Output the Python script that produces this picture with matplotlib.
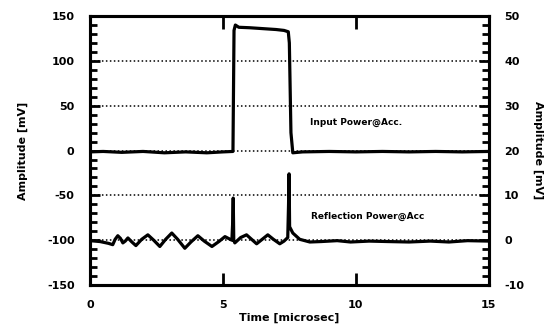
import numpy as np
import matplotlib
matplotlib.use("Agg")
import matplotlib.pyplot as plt
from matplotlib.ticker import MultipleLocator

# Input power at accelerator, left axis [mV]
t_input = [0.0, 0.5, 1.2, 2.0, 2.8, 3.6, 4.4, 5.0, 5.38, 5.42, 5.47, 5.6, 6.0,
           6.5, 7.0, 7.3, 7.46, 7.5, 7.56, 7.63, 8.0, 9.0, 10.0, 11.0, 12.0,
           13.0, 14.0, 15.0]
v_input = [-1.5, -1.0, -2.0, -1.0, -2.5, -1.5, -2.5, -1.5, -1.0, 134.0, 140.0,
           137.5, 137.0, 136.0, 135.0, 134.0, 132.5, 120.0, 20.0, -2.5, -1.5,
           -1.0, -1.5, -1.0, -1.5, -1.0, -1.5, -1.0]

# Reflection power at accelerator, right axis [mV]
t_refl = [0.0, 0.38, 0.7, 0.86, 0.95, 1.05, 1.15, 1.24, 1.33, 1.43, 1.58,
          1.73, 1.95, 2.18, 2.4, 2.63, 2.85, 3.08, 3.3, 3.57, 3.8, 4.06, 4.3,
          4.59, 4.85, 5.08, 5.34, 5.37, 5.39, 5.41, 5.45, 5.67, 5.89, 6.08,
          6.27, 6.48, 6.69, 6.9, 7.14, 7.3, 7.44, 7.47, 7.49, 7.51, 7.63, 7.89,
          8.27, 8.7, 9.3, 9.8, 10.5, 11.2, 12.0, 12.8, 13.5, 14.2, 15.0]
v_refl = [-0.1, -0.3, -0.7, -1.0, 0.2, 1.0, 0.4, -0.6, -0.2, 0.5, -0.4, -1.2,
          0.2, 1.2, 0.0, -1.4, 0.2, 1.6, 0.2, -1.8, -0.4, 1.0, -0.2, -1.4,
          -0.3, 0.8, 0.0, 4.0, 9.4, 0.0, -0.6, 0.6, 1.2, 0.2, -0.8, 0.2, 1.2,
          0.2, -0.8, -0.2, 0.6, 8.0, 14.8, 3.0, 1.6, 0.2, -0.4, -0.3, -0.1,
          -0.4, -0.2, -0.3, -0.4, -0.2, -0.4, -0.1, -0.2]

left_ticks = [-150, -100, -50, 0, 50, 100, 150]
right_ticks = [-10, 0, 10, 20, 30, 40, 50]
x_ticks = [0, 5, 10, 15]
grid_levels = [-100, -50, 0, 50, 100]

plt.rcParams["font.family"] = "DejaVu Sans"
plt.rcParams["font.weight"] = "bold"
plt.rcParams["axes.unicode_minus"] = False

fig = plt.figure(figsize=(5.48, 3.28), dpi=100)
ax = fig.add_axes([0.164, 0.131, 0.728, 0.820])
ax2 = ax.twinx()

for g in grid_levels:
    ax.axhline(g, color="black", lw=1.1, ls=(0, (1, 1.6)), zorder=1)

ax.plot(t_input, v_input, color="black", lw=2.3, zorder=3)
ax2.plot(t_refl, v_refl, color="black", lw=2.3, zorder=3,
         solid_joinstyle="round")

ax.set_xlim(0, 15)
ax.set_ylim(-150, 150)
ax2.set_ylim(-10, 50)

ax.set_xticks(x_ticks)
ax.set_yticks(left_ticks)
ax2.set_yticks(right_ticks)
ax.yaxis.set_minor_locator(MultipleLocator(10))
ax2.yaxis.set_minor_locator(MultipleLocator(2))

ax.tick_params(axis="x", direction="in", length=9, width=2, top=True,
               labelsize=8, pad=11)
ax.tick_params(axis="y", which="major", direction="in", length=7, width=2,
               labelsize=8, pad=11)
ax.tick_params(axis="y", which="minor", direction="in", length=5, width=2)
ax2.tick_params(axis="y", which="major", direction="in", length=7, width=2,
                labelsize=8, pad=11)
ax2.tick_params(axis="y", which="minor", direction="in", length=5, width=2)

for a in (ax, ax2):
    for s in a.spines.values():
        s.set_linewidth(2.2)

ax.set_xlabel("Time [microsec]", fontsize=8, fontweight="bold", labelpad=2)
ax.set_ylabel("Amplitude [mV]", fontsize=8, fontweight="bold", labelpad=14)
ax2.set_ylabel("Amplitude [mV]", fontsize=8, fontweight="bold", rotation=270,
               labelpad=14)

ax.text(8.27, 31, "Input Power@Acc.", fontsize=6.5, fontweight="bold",
        va="center", ha="left")
ax.text(8.3, -74, "Reflection Power@Acc", fontsize=6.5, fontweight="bold",
        va="center", ha="left")

fig.savefig("out.png", dpi=100)
